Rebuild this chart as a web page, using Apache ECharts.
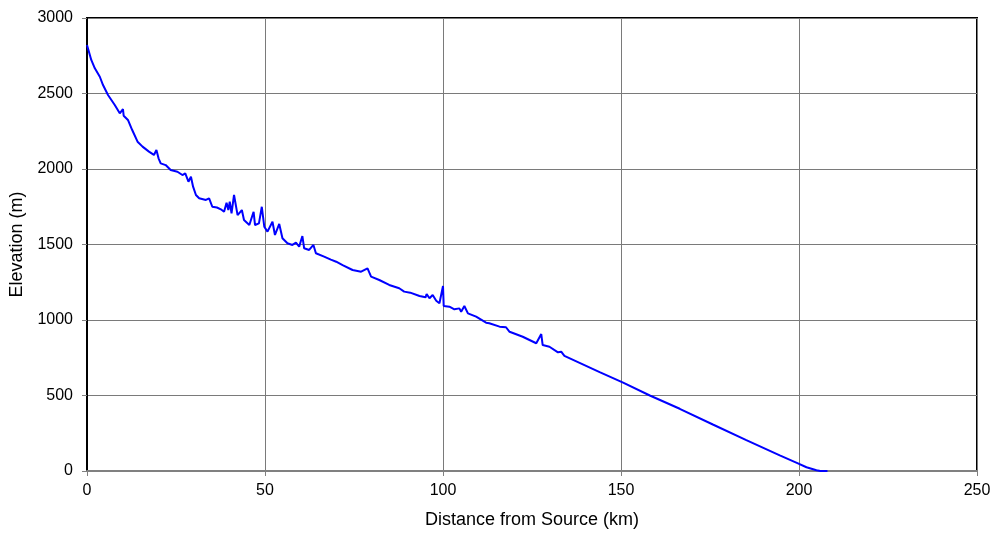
<!DOCTYPE html>
<html>
<head>
<meta charset="utf-8">
<script src="https://cdn.jsdelivr.net/npm/echarts@6/dist/echarts.min.js"></script>
<style>html,body{margin:0;padding:0;background:#fff}#c{width:1000px;height:535px}</style>
</head>
<body>
<div id="c"></div>
<script>
const distanceKm = [0, 1.2, 2.2, 3.6, 4.5, 5.9, 7.8, 9.2, 10.1, 10.3, 11.5, 12.7, 14.2, 15.6, 17.4, 18.8, 19.5, 20.1, 20.7, 22.1, 23.5, 25.4, 26.8, 27.6, 28.5, 29.2, 29.8, 30.6, 31.5, 33.4, 34.3, 35.2, 36.5, 37.6, 38.5, 39.2, 39.7, 40.1, 40.6, 41.3, 42.3, 43.5, 44.1, 45.6, 46.8, 47.2, 48.3, 49.1, 49.8, 50.7, 51.2, 52.1, 52.8, 54.0, 54.9, 56.3, 57.7, 58.7, 59.6, 60.5, 61.0, 62.4, 63.6, 64.3, 66.6, 68.5, 70.0, 71.8, 74.6, 77.0, 78.8, 79.8, 82.1, 84.9, 87.7, 89.1, 90.8, 93.4, 95.1, 95.4, 96.2, 97.1, 98.1, 99.0, 100.0, 100.2, 101.8, 103.2, 104.6, 105.1, 106.0, 107.0, 109.3, 112.1, 113.0, 115.9, 117.7, 118.7, 122.4, 126.2, 127.6, 128.0, 129.9, 132.3, 133.2, 134.1, 144.0, 150.6, 158.1, 166.5, 175.8, 185.2, 194.6, 199.7, 202.1, 204.9, 206.0, 208.0];
const elevationM = [2821, 2722, 2667, 2611, 2556, 2490, 2424, 2369, 2397, 2353, 2325, 2258, 2181, 2148, 2115, 2093, 2126, 2071, 2037, 2026, 1993, 1982, 1960, 1971, 1916, 1949, 1883, 1828, 1806, 1795, 1806, 1750, 1745, 1733, 1717, 1777, 1728, 1783, 1706, 1828, 1695, 1728, 1662, 1629, 1717, 1629, 1640, 1750, 1618, 1585, 1574, 1651, 1563, 1636, 1541, 1508, 1497, 1512, 1486, 1556, 1475, 1464, 1497, 1442, 1420, 1400, 1386, 1364, 1331, 1320, 1342, 1287, 1265, 1232, 1210, 1188, 1181, 1159, 1150, 1172, 1144, 1166, 1128, 1111, 1225, 1093, 1088, 1071, 1077, 1055, 1093, 1044, 1022, 982, 978, 956, 952, 922, 889, 846, 907, 834, 823, 786, 790, 762, 655, 585, 500, 412, 308, 205, 103, 51, 25, 5, 0, 0];
const xTicks = [0, 50, 100, 150, 200, 250];
const yTicks = [0, 500, 1000, 1500, 2000, 2500, 3000];

const chart = echarts.init(document.getElementById('c'), null, {renderer: 'canvas'});
const font = 'Liberation Sans, Arial, sans-serif';
chart.setOption({
  animation: false,
  backgroundColor: '#fff',
  grid: {left: 87, right: 23, top: 18, bottom: 64, containLabel: false, show: true, borderColor: '#000', borderWidth: 2},
  xAxis: {
    type: 'value', min: xTicks[0], max: xTicks[xTicks.length - 1], interval: 50,
    name: 'Distance from Source (km)', nameLocation: 'middle', nameGap: 40,
    nameTextStyle: {fontFamily: font, fontSize: 18, color: '#000'},
    axisLine: {show: true, onZero: false, lineStyle: {color: '#808080', width: 2}},
    axisTick: {show: true, inside: false, length: 5, lineStyle: {color: '#808080'}},
    axisLabel: {fontFamily: font, fontSize: 16, color: '#000', margin: 12, formatter: v => String(v)},
    splitLine: {show: true, lineStyle: {color: '#7a7a7a', width: 1}}
  },
  yAxis: {
    type: 'value', min: yTicks[0], max: yTicks[yTicks.length - 1], interval: 500,
    name: 'Elevation (m)', nameLocation: 'middle', nameGap: 53, nameRotate: 90,
    nameTextStyle: {fontFamily: font, fontSize: 18, color: '#000'},
    axisLine: {show: true, lineStyle: {color: '#000', width: 2}},
    axisTick: {show: true, inside: false, length: 5, lineStyle: {color: '#808080'}},
    axisLabel: {fontFamily: font, fontSize: 16, color: '#000', margin: 14, formatter: v => String(v)},
    splitLine: {show: true, lineStyle: {color: '#7a7a7a', width: 1}}
  },
  series: [{
    type: 'line',
    data: distanceKm.map((d, i) => [d, elevationM[i]]),
    showSymbol: false,
    lineStyle: {color: '#0000ff', width: 2},
    itemStyle: {color: '#0000ff'},
    z: 3
  }]
});
</script>
</body>
</html>
